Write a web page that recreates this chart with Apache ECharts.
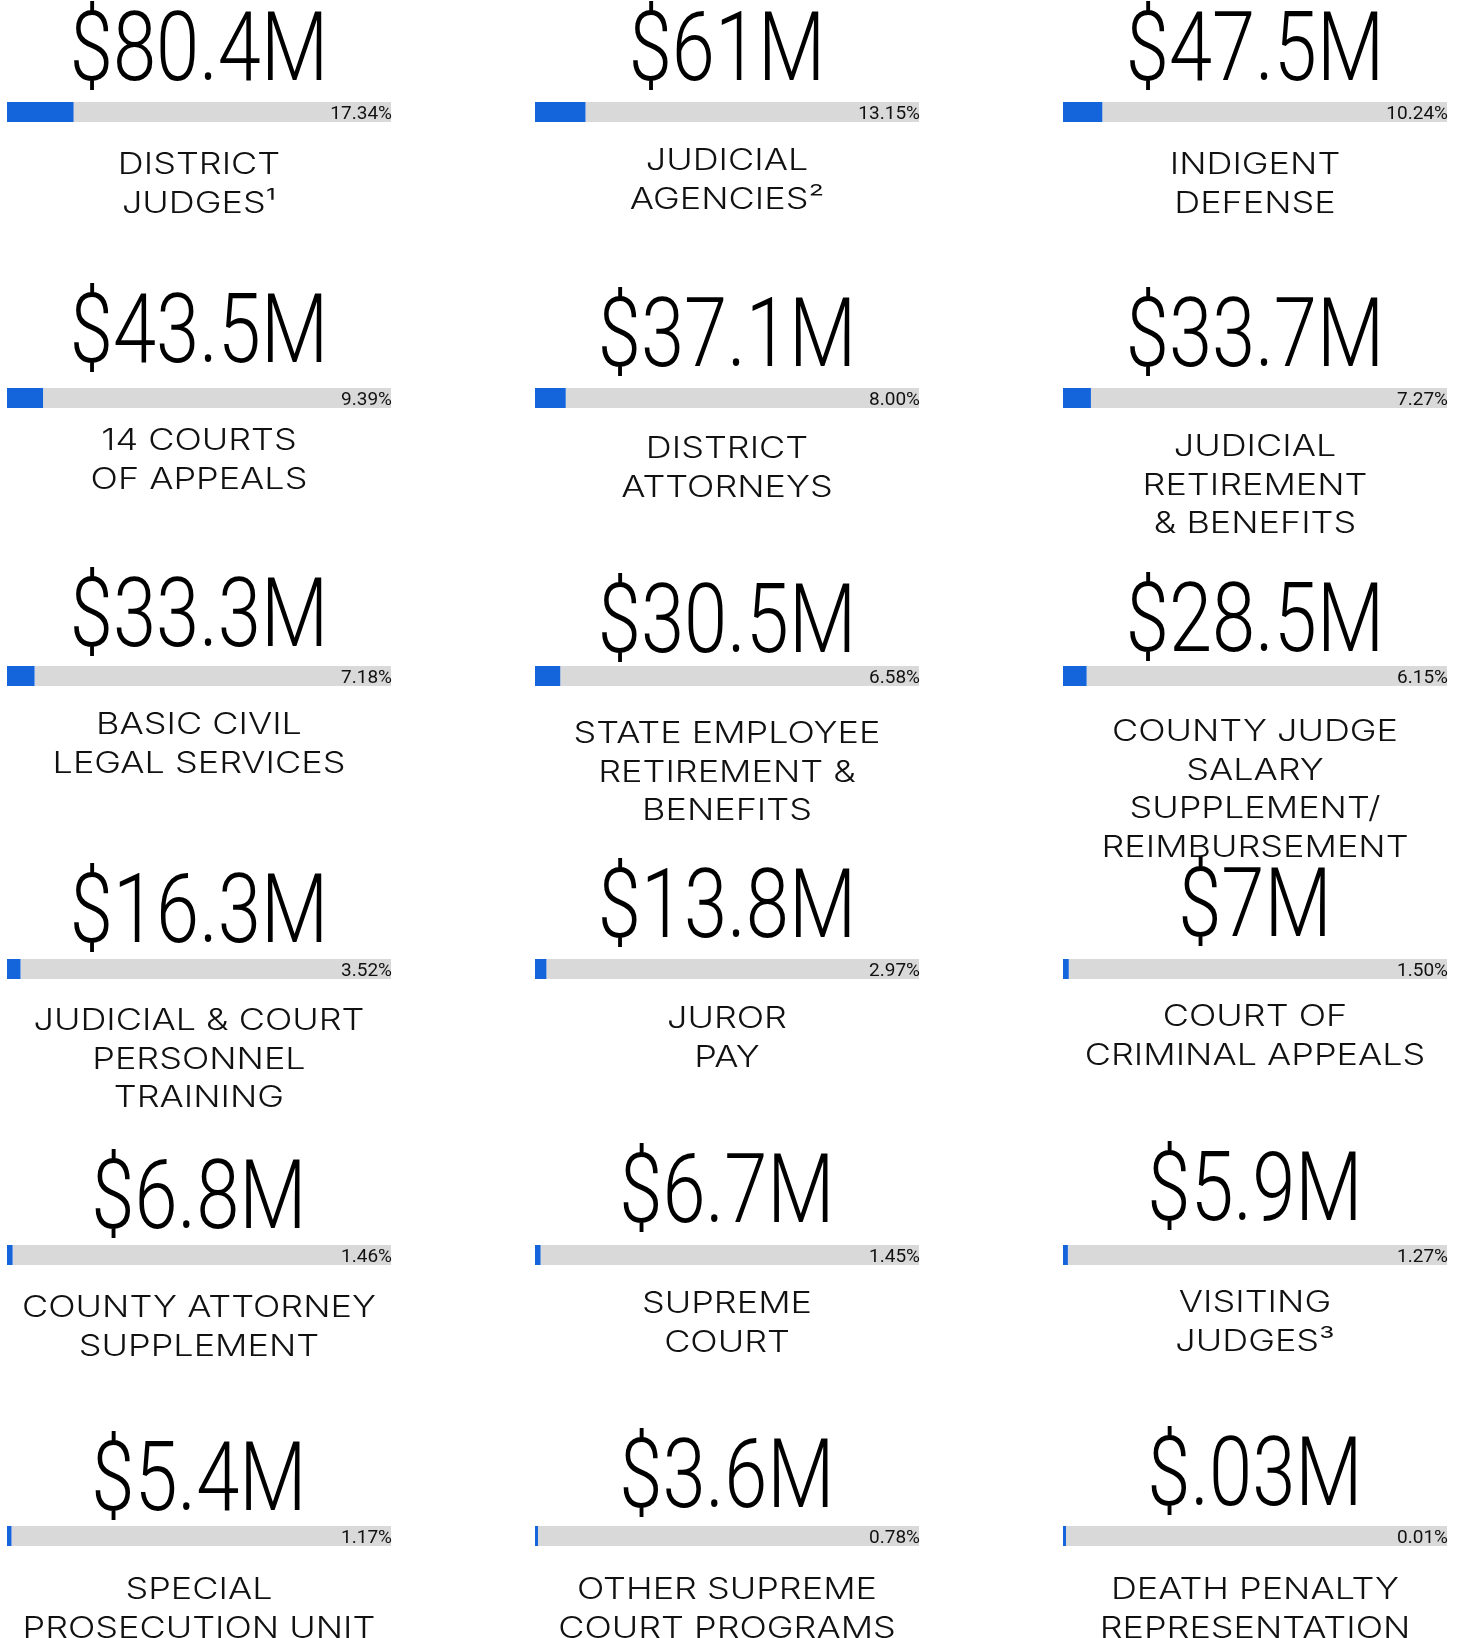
<!DOCTYPE html>
<html>
<head>
<meta charset="utf-8">
<title>Judicial spending</title>
<script src="https://cdn.jsdelivr.net/npm/echarts@6.0.0/dist/echarts.min.js"></script>
<style>
    html, body { margin: 0; padding: 0; background: #fff; }
    #container { width: 1466px; height: 1638px; }
</style>
</head>
<body>
<div id="container"></div>
<script>
// DATA
var categories = [
    'DISTRICT\nJUDGES¹', 'JUDICIAL\nAGENCIES²', 'INDIGENT\nDEFENSE',
    '14 COURTS\nOF APPEALS', 'DISTRICT\nATTORNEYS', 'JUDICIAL\nRETIREMENT\n& BENEFITS',
    'BASIC CIVIL\nLEGAL SERVICES', 'STATE EMPLOYEE\nRETIREMENT &\nBENEFITS', 'COUNTY JUDGE\nSALARY\nSUPPLEMENT/\nREIMBURSEMENT',
    'JUDICIAL & COURT\nPERSONNEL\nTRAINING', 'JUROR\nPAY', 'COURT OF\nCRIMINAL APPEALS',
    'COUNTY ATTORNEY\nSUPPLEMENT', 'SUPREME\nCOURT', 'VISITING\nJUDGES³',
    'SPECIAL\nPROSECUTION UNIT', 'OTHER SUPREME\nCOURT PROGRAMS', 'DEATH PENALTY\nREPRESENTATION'
];
var amounts = [80.4, 61, 47.5, 43.5, 37.1, 33.7, 33.3, 30.5, 28.5, 16.3, 13.8, 7, 6.8, 6.7, 5.9, 5.4, 3.6, 0.03];
var percents = [17.34, 13.15, 10.24, 9.39, 8.00, 7.27, 7.18, 6.58, 6.15, 3.52, 2.97, 1.50, 1.46, 1.45, 1.27, 1.17, 0.78, 0.01];

// LAYOUT (pixels)
var colLeft = [7, 535, 1063];
var barW = 384, barH = 20;
var barTop = [102, 388, 666, 959, 1245, 1526];
var numCapTop = [15, 15, 15, 297, 301, 301, 581, 587, 586, 877, 872, 871, 1163, 1157, 1155, 1445, 1442, 1440];
var labelCapTop = [152, 148, 152, 428, 436, 434, 712, 721, 719, 1008, 1006, 1004, 1295, 1291, 1290, 1577, 1577, 1577];

var BLUE = '#1464dc', GREY = '#d9d9d9';
var NUM_FONT = 'Roboto, "Open Sans", sans-serif';
var LBL_FONT = 'Inter, "DejaVu Sans", sans-serif';

function fmtAmount(v) {
    return '$' + String(v).replace(/^0\./, '.') + 'M';
}

var grids = [], xAxes = [], yAxes = [], series = [], texts = [];
var i;
for (i = 0; i < categories.length; i++) {
    var row = Math.floor(i / 3), col = i % 3;
    var cx = colLeft[col] + barW / 2;

    grids.push({ left: colLeft[col], top: barTop[row], width: barW, height: barH });
    xAxes.push({ gridIndex: i, type: 'value', min: 0, max: 100, show: false });
    yAxes.push({ gridIndex: i, type: 'category', data: [''], show: false });

    // share (blue) drawn over the remainder so tiny shares still show
    series.push({
        type: 'bar', xAxisIndex: i, yAxisIndex: i, stack: 's' + i,
        barWidth: barH, barMinHeight: 3, silent: true, z: 3,
        itemStyle: { color: BLUE },
        data: [percents[i]]
    });
    series.push({
        type: 'bar', xAxisIndex: i, yAxisIndex: i, stack: 's' + i,
        barWidth: barH, silent: true, z: 2,
        itemStyle: { color: GREY },
        label: {
            show: true,
            position: 'insideRight',
            distance: 0,
            offset: [1, 2],
            fontFamily: NUM_FONT,
            fontSize: 19,
            color: '#111',
            formatter: (function (p) { return function () { return p.toFixed(2) + '%'; }; })(percents[i])
        },
        data: [+(100 - percents[i]).toFixed(2)]
    });

    // big amount, condensed light face
    texts.push({
        type: 'text',
        x: cx, y: numCapTop[i] - 7,
        scaleX: 0.81,
        silent: true,
        style: {
            text: fmtAmount(amounts[i]),
            fontFamily: NUM_FONT, fontSize: 96, fontWeight: 300,
            lineHeight: 96,
            fill: '#000',
            textAlign: 'center', textVerticalAlign: 'top'
        }
    });
    // category name, wide spaced caps
    texts.push({
        type: 'text',
        x: cx, y: labelCapTop[i] - 6,
        scaleX: 1.2,
        silent: true,
        style: {
            text: categories[i],
            fontFamily: LBL_FONT, fontSize: 30, fontWeight: 300,
            lineHeight: 38.5,
            fill: '#111',
            textAlign: 'center', textVerticalAlign: 'top'
        }
    });
}

var myChart = echarts.init(document.getElementById('container'), null, { renderer: 'canvas' });
var option = {
    backgroundColor: '#fff',
    animation: false,
    grid: grids,
    xAxis: xAxes,
    yAxis: yAxes,
    series: series,
    graphic: { elements: texts }
};
myChart.setOption(option);
</script>
</body>
</html>
